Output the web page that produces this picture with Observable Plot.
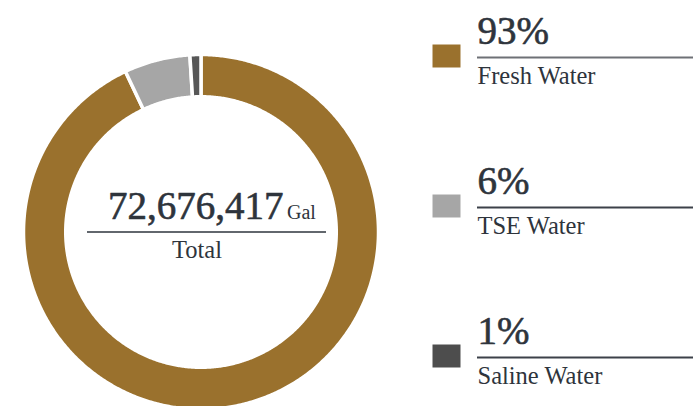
<!DOCTYPE html>
<html>
<head>
<meta charset="utf-8">
<script src="https://cdn.jsdelivr.net/npm/d3@7"></script>
<script src="https://cdn.jsdelivr.net/npm/@observablehq/plot@0.6"></script>
<style>
  html, body { margin: 0; padding: 0; background: #fff; overflow: hidden; }
  #wrap { position: relative; width: 693px; height: 406px; }
  #donut { position: absolute; left: 0; top: 0; }
  #legend { position: absolute; left: 420px; top: 0; }
  svg text { font-family: "Liberation Serif", "DejaVu Serif", serif !important; }
</style>
</head>
<body>
<div id="wrap"><div id="donut"></div><div id="legend"></div></div>
<script>
// ---- data ----
const categories = ["Fresh Water", "TSE Water", "Saline Water"];
const percents = [93, 6, 1];
const colors = ["#9a712d", "#a6a6a6", "#575757"];
const swatchColors = ["#9a712d", "#a6a6a6", "#4d4d4d"];
const ruleColors = ["#6e7176", "#3c4149", "#3c4149"];
const totalValue = 72676417;
const totalUnit = "Gal";
const totalLabel = "Total";

const textColor = "#2e343c";
const serif = "Liberation Serif";

const rows = categories.map((name, i) => ({name, pct: percents[i]}));

// donut polygons from pie angles
const innerRatio = 0.762;
const pie = d3.pie().sort(null).value(d => d.pct).startAngle(0).endAngle(2 * Math.PI);
const arcs = pie(rows);
const pts = [];
for (const a of arcs) {
  const n = Math.max(4, Math.ceil((a.endAngle - a.startAngle) / (Math.PI / 360)));
  for (let k = 0; k <= n; k++) {
    const t = a.startAngle + (a.endAngle - a.startAngle) * k / n;
    pts.push({name: a.data.name, x: Math.sin(t), y: Math.cos(t)});
  }
  for (let k = n; k >= 0; k--) {
    const t = a.startAngle + (a.endAngle - a.startAngle) * k / n;
    pts.push({name: a.data.name, x: innerRatio * Math.sin(t), y: innerRatio * Math.cos(t)});
  }
}

const cx = 200.5, cy = 231.5, R = 177.5;
const W1 = 420;

const donut = Plot.plot({
  width: W1, height: 406,
  margin: 0,
  style: {fontFamily: serif, color: textColor, background: "transparent", overflow: "visible"},
  x: {domain: [-1, 1], range: [cx - R, cx + R], axis: null},
  y: {domain: [-1, 1], range: [cy + R, cy - R], axis: null},
  color: {domain: categories, range: colors},
  marks: [
    Plot.line(pts, {x: "x", y: "y", z: "name", fill: "name", stroke: "white", strokeWidth: 3.5, curve: "linear-closed"}),
    Plot.ruleY([0], {stroke: textColor, strokeWidth: 1.5, insetLeft: 87, insetRight: 94}),
    Plot.text([d3.format(",")(totalValue)], {x: 0, y: 0, text: d => d, textAnchor: "end", lineAnchor: "bottom", dx: 82.5, dy: -13, fontSize: 39, letterSpacing: 0.3, fontFamily: serif, fill: textColor, stroke: textColor, strokeWidth: 0.6}),
    Plot.text([totalUnit], {x: 0, y: 0, text: d => d, textAnchor: "start", lineAnchor: "bottom", dx: 86, dy: -13, fontSize: 20, fontFamily: serif, fill: textColor}),
    Plot.text([totalLabel], {x: 0, y: 0, text: d => d, textAnchor: "middle", lineAnchor: "bottom", dx: -4, dy: 26, fontSize: 24.5, fontFamily: serif, fill: textColor})
  ]
});
document.getElementById("donut").appendChild(donut);

const rectSymbol = {draw(ctx) { ctx.rect(-14, -11.5, 28, 23); }};

const legend = Plot.plot({
  width: 273, height: 406,
  marginLeft: 57, marginRight: 0, marginTop: 0, marginBottom: 0,
  style: {fontFamily: serif, color: textColor, background: "transparent", overflow: "visible"},
  y: {type: "point", domain: categories, range: [56.7, 356.7], padding: 0, axis: null},
  marks: [
    Plot.ruleY(rows, {y: "name", stroke: (d, i) => ruleColors[i], strokeWidth: 1.8}),
    Plot.dot(rows, {y: "name", frameAnchor: "left", dx: -31, dy: -1.5, symbol: rectSymbol, r: 10, fill: (d, i) => swatchColors[i], stroke: null}),
    Plot.text(rows, {y: "name", text: d => d.pct + "%", frameAnchor: "left", textAnchor: "start", lineAnchor: "bottom", dy: -14, fontSize: 39, letterSpacing: 3, fontFamily: serif, fill: textColor, stroke: textColor, strokeWidth: 0.6}),
    Plot.text(rows, {y: "name", text: "name", frameAnchor: "left", textAnchor: "start", lineAnchor: "bottom", dy: 26, fontSize: 24.5, letterSpacing: 0.3, fontFamily: serif, fill: textColor})
  ]
});
document.getElementById("legend").appendChild(legend);
</script>
</body>
</html>
